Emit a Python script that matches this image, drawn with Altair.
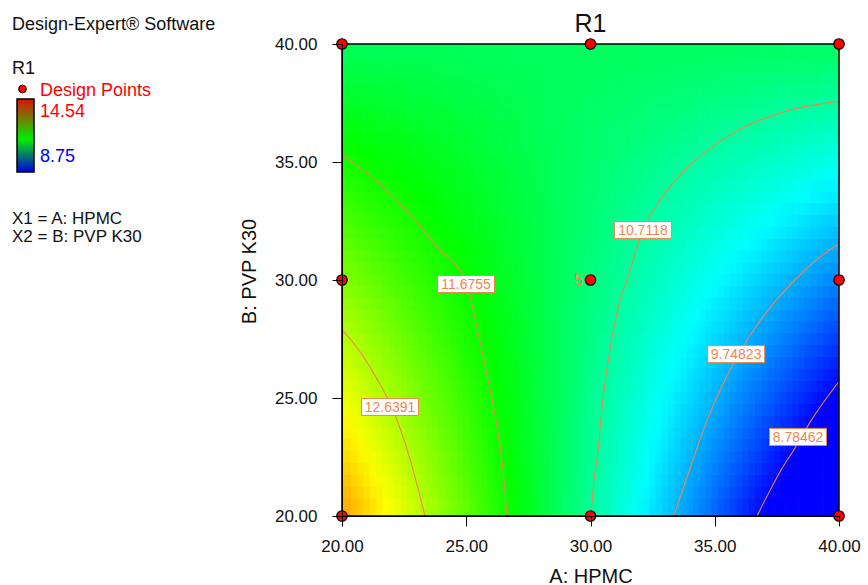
import altair as alt
import pandas as pd

FONT = "Liberation Sans"
ORANGE = "#F0864E"

# ---------------- data ----------------
# cell lower edges: HPMC every 0.5, PVP K30 every 1
hpmc_cell_lo = [20.0, 20.5, 21.0, 21.5, 22.0, 22.5, 23.0, 23.5, 24.0, 24.5,
                25.0, 25.5, 26.0, 26.5, 27.0, 27.5, 28.0, 28.5, 29.0, 29.5,
                30.0, 30.5, 31.0, 31.5, 32.0, 32.5, 33.0, 33.5, 34.0, 34.5,
                35.0, 35.5, 36.0, 36.5, 37.0, 37.5, 38.0, 38.5, 39.0, 39.5]
pvp_cell_lo = [20, 21, 22, 23, 24, 25, 26, 27, 28, 29, 30, 31, 32, 33, 34, 35, 36, 37, 38, 39]

# R1 surface, rows from PVP K30 = 20 (bottom) to 40 (top), columns HPMC 20 -> 40
r1_rows = [
    [13.53, 13.39, 13.24, 13.10, 12.96, 12.82, 12.68, 12.54, 12.39, 12.25, 12.11, 11.97, 11.83, 11.69, 11.55, 11.41, 11.26, 11.12, 10.98, 10.84,
     10.70, 10.56, 10.42, 10.28, 10.13, 9.99, 9.85, 9.71, 9.57, 9.43, 9.28, 9.14, 9.00, 8.86, 8.72, 8.58, 8.44, 8.30, 8.15, 8.01],
    [13.41, 13.27, 13.14, 13.00, 12.87, 12.73, 12.60, 12.46, 12.33, 12.19, 12.06, 11.92, 11.80, 11.66, 11.53, 11.39, 11.26, 11.12, 10.99, 10.85,
     10.72, 10.58, 10.45, 10.31, 10.19, 10.05, 9.92, 9.78, 9.65, 9.51, 9.38, 9.24, 9.11, 8.97, 8.85, 8.71, 8.58, 8.44, 8.31, 8.17],
    [13.28, 13.16, 13.02, 12.90, 12.77, 12.65, 12.52, 12.40, 12.26, 12.14, 12.01, 11.89, 11.75, 11.63, 11.50, 11.38, 11.25, 11.13, 10.99, 10.87,
     10.74, 10.62, 10.49, 10.37, 10.23, 10.11, 9.98, 9.86, 9.72, 9.60, 9.47, 9.35, 9.22, 9.10, 8.96, 8.84, 8.71, 8.59, 8.46, 8.34],
    [13.16, 13.04, 12.92, 12.80, 12.68, 12.56, 12.44, 12.32, 12.20, 12.08, 11.96, 11.84, 11.72, 11.60, 11.48, 11.36, 11.24, 11.12, 11.00, 10.88,
     10.76, 10.64, 10.52, 10.40, 10.29, 10.17, 10.05, 9.93, 9.81, 9.69, 9.57, 9.45, 9.33, 9.21, 9.09, 8.97, 8.85, 8.73, 8.61, 8.49],
    [13.04, 12.92, 12.81, 12.69, 12.59, 12.47, 12.36, 12.24, 12.14, 12.02, 11.91, 11.79, 11.69, 11.57, 11.46, 11.34, 11.24, 11.12, 11.01, 10.89,
     10.79, 10.67, 10.56, 10.44, 10.34, 10.22, 10.11, 9.99, 9.89, 9.77, 9.67, 9.55, 9.44, 9.32, 9.22, 9.10, 8.99, 8.87, 8.77, 8.65],
    [12.91, 12.81, 12.70, 12.60, 12.49, 12.39, 12.28, 12.18, 12.07, 11.97, 11.86, 11.76, 11.65, 11.55, 11.43, 11.33, 11.22, 11.12, 11.01, 10.91,
     10.80, 10.70, 10.59, 10.49, 10.38, 10.28, 10.17, 10.07, 9.96, 9.86, 9.75, 9.65, 9.54, 9.44, 9.33, 9.23, 9.12, 9.02, 8.91, 8.81],
    [12.79, 12.69, 12.59, 12.49, 12.40, 12.30, 12.20, 12.10, 12.00, 11.90, 11.81, 11.71, 11.61, 11.51, 11.42, 11.32, 11.22, 11.12, 11.03, 10.93,
     10.83, 10.73, 10.63, 10.53, 10.44, 10.34, 10.24, 10.14, 10.05, 9.95, 9.85, 9.75, 9.66, 9.56, 9.46, 9.36, 9.26, 9.16, 9.07, 8.97],
    [12.66, 12.58, 12.48, 12.40, 12.30, 12.20, 12.12, 12.02, 11.94, 11.84, 11.76, 11.66, 11.58, 11.48, 11.40, 11.30, 11.22, 11.12, 11.04, 10.94,
     10.85, 10.75, 10.67, 10.57, 10.49, 10.39, 10.31, 10.21, 10.13, 10.03, 9.95, 9.85, 9.77, 9.67, 9.59, 9.49, 9.40, 9.30, 9.22, 9.12],
    [12.54, 12.46, 12.37, 12.29, 12.20, 12.12, 12.04, 11.96, 11.87, 11.79, 11.70, 11.62, 11.54, 11.46, 11.37, 11.29, 11.20, 11.12, 11.04, 10.96,
     10.87, 10.79, 10.70, 10.62, 10.54, 10.46, 10.37, 10.29, 10.20, 10.12, 10.04, 9.96, 9.87, 9.79, 9.70, 9.62, 9.54, 9.46, 9.37, 9.29],
    [12.42, 12.34, 12.27, 12.19, 12.11, 12.03, 11.96, 11.88, 11.81, 11.73, 11.66, 11.58, 11.50, 11.42, 11.35, 11.27, 11.20, 11.12, 11.05, 10.97,
     10.90, 10.82, 10.74, 10.66, 10.59, 10.51, 10.44, 10.36, 10.29, 10.21, 10.13, 10.05, 9.98, 9.90, 9.83, 9.75, 9.68, 9.60, 9.52, 9.44],
    [12.29, 12.23, 12.15, 12.09, 12.01, 11.95, 11.88, 11.82, 11.74, 11.68, 11.60, 11.54, 11.46, 11.40, 11.32, 11.26, 11.19, 11.13, 11.05, 10.99,
     10.91, 10.85, 10.77, 10.71, 10.64, 10.58, 10.50, 10.44, 10.36, 10.30, 10.22, 10.16, 10.08, 10.02, 9.95, 9.89, 9.81, 9.75, 9.67, 9.61],
    [12.17, 12.11, 12.05, 11.99, 11.92, 11.86, 11.80, 11.74, 11.68, 11.62, 11.55, 11.49, 11.43, 11.37, 11.31, 11.25, 11.18, 11.12, 11.06, 11.00,
     10.94, 10.88, 10.81, 10.75, 10.69, 10.63, 10.57, 10.51, 10.44, 10.38, 10.32, 10.26, 10.20, 10.14, 10.07, 10.01, 9.95, 9.89, 9.83, 9.77],
    [12.05, 11.99, 11.94, 11.88, 11.83, 11.77, 11.72, 11.66, 11.61, 11.55, 11.50, 11.44, 11.40, 11.34, 11.29, 11.23, 11.18, 11.12, 11.07, 11.01,
     10.96, 10.90, 10.85, 10.79, 10.74, 10.68, 10.63, 10.57, 10.53, 10.47, 10.42, 10.36, 10.31, 10.25, 10.20, 10.14, 10.09, 10.03, 9.98, 9.92],
    [11.92, 11.88, 11.82, 11.78, 11.73, 11.69, 11.64, 11.60, 11.54, 11.50, 11.45, 11.41, 11.35, 11.31, 11.26, 11.22, 11.16, 11.12, 11.07, 11.03,
     10.98, 10.94, 10.88, 10.84, 10.79, 10.75, 10.69, 10.65, 10.60, 10.56, 10.50, 10.46, 10.41, 10.37, 10.32, 10.28, 10.22, 10.18, 10.13, 10.09],
    [11.80, 11.76, 11.72, 11.68, 11.64, 11.60, 11.56, 11.52, 11.48, 11.44, 11.40, 11.36, 11.32, 11.28, 11.24, 11.20, 11.16, 11.12, 11.08, 11.04,
     11.00, 10.96, 10.92, 10.88, 10.84, 10.80, 10.76, 10.72, 10.68, 10.64, 10.60, 10.56, 10.52, 10.48, 10.44, 10.40, 10.36, 10.32, 10.28, 10.24],
    [11.68, 11.64, 11.61, 11.57, 11.55, 11.51, 11.48, 11.44, 11.42, 11.38, 11.35, 11.31, 11.29, 11.25, 11.22, 11.18, 11.16, 11.12, 11.09, 11.05,
     11.03, 10.99, 10.96, 10.92, 10.90, 10.86, 10.83, 10.79, 10.77, 10.73, 10.70, 10.66, 10.64, 10.60, 10.57, 10.53, 10.50, 10.46, 10.44, 10.40],
    [11.55, 11.53, 11.50, 11.48, 11.45, 11.43, 11.40, 11.38, 11.35, 11.33, 11.30, 11.28, 11.25, 11.23, 11.19, 11.17, 11.14, 11.12, 11.09, 11.07,
     11.04, 11.02, 10.99, 10.97, 10.94, 10.92, 10.89, 10.87, 10.84, 10.82, 10.79, 10.77, 10.74, 10.72, 10.69, 10.67, 10.64, 10.62, 10.59, 10.57],
    [11.43, 11.41, 11.39, 11.37, 11.36, 11.34, 11.32, 11.30, 11.28, 11.26, 11.25, 11.23, 11.21, 11.19, 11.18, 11.16, 11.14, 11.12, 11.10, 11.08,
     11.07, 11.05, 11.03, 11.01, 10.99, 10.97, 10.96, 10.94, 10.92, 10.90, 10.89, 10.87, 10.85, 10.83, 10.81, 10.79, 10.78, 10.76, 10.74, 10.72],
    [11.31, 11.30, 11.29, 11.28, 11.27, 11.26, 11.25, 11.24, 11.22, 11.21, 11.20, 11.19, 11.18, 11.17, 11.16, 11.15, 11.14, 11.13, 11.11, 11.10,
     11.09, 11.08, 11.07, 11.06, 11.05, 11.04, 11.03, 11.02, 11.01, 11.00, 10.98, 10.97, 10.96, 10.95, 10.94, 10.93, 10.92, 10.91, 10.90, 10.89],
    [11.18, 11.18, 11.17, 11.17, 11.17, 11.17, 11.16, 11.16, 11.15, 11.15, 11.14, 11.14, 11.14, 11.14, 11.13, 11.13, 11.12, 11.12, 11.12, 11.12,
     11.11, 11.11, 11.10, 11.10, 11.09, 11.09, 11.09, 11.09, 11.08, 11.08, 11.07, 11.07, 11.06, 11.06, 11.06, 11.06, 11.05, 11.05, 11.04, 11.04],
]

# contour lines (HPMC, PVP K30)
c8_78462_hpmc = [36.7, 37.7, 38.3, 38.85, 39.5, 40.0]
c8_78462_pvp = [20.0, 22.0, 23.0, 24.0, 25.0, 25.7]
c9_74823_hpmc = [33.35, 34.0, 34.67, 35.52, 36.04, 36.64, 37.36, 38.22, 39.27, 40.0]
c9_74823_pvp = [20.0, 22.0, 24.0, 26.0, 27.0, 28.0, 29.0, 30.0, 31.0, 31.55]
c10_7118_hpmc = [30.02, 30.14, 30.26, 30.5, 30.78, 31.19, 31.47, 32.11, 32.8, 34.0, 35.61, 37.63, 40.0]
c10_7118_pvp = [20.0, 21.53, 22.37, 24.92, 27.03, 29.15, 30.0, 32.12, 33.39, 34.87, 36.14, 37.08, 37.58]
c11_6755_hpmc = [20.0, 21.53, 22.94, 23.94, 24.47, 25.03, 25.43, 25.84, 26.24, 26.48, 26.64]
c11_6755_pvp = [35.3, 34.07, 32.54, 31.27, 30.76, 29.83, 28.0, 25.97, 23.77, 21.95, 20.0]
c12_6391_hpmc = [20.0, 20.7, 21.3, 22.05, 22.74, 23.05, 23.34]
c12_6391_pvp = [27.9, 27.0, 26.0, 24.5, 22.4, 21.2, 20.0]

contour_levels = ["8.78462", "9.74823", "10.7118", "11.6755", "12.6391"]
contour_label_hpmc = [38.35, 35.86, 32.11, 24.99, 21.93]
contour_label_pvp = [23.35, 26.86, 32.12, 29.83, 24.62]

design_hpmc = [20, 30, 40, 20, 30, 40, 20, 30, 40]
design_pvp = [20, 20, 20, 30, 30, 30, 40, 40, 40]
center_replicates = ["5"]

# ---------------- tables ----------------
last_i = len(hpmc_cell_lo) - 1
last_j = len(pvp_cell_lo) - 1
heat_rows = []
for j, pv in enumerate(pvp_cell_lo):
    for i, hp in enumerate(hpmc_cell_lo):
        heat_rows.append({
            "hb0": hp - 0.125, "hb1": 40 if i == last_i else hp + 0.375,
            "hs0": hp + 0.125, "hs1": hp + 0.625,
            "vb0": pv - 0.25, "vb1": 40 if j == last_j else pv + 0.75,
            "vs0": pv + 0.25, "vs1": pv + 1.25,
            "r1": r1_rows[j][i],
        })
df_heat = pd.DataFrame(heat_rows)

contour_sets = [
    (c8_78462_hpmc, c8_78462_pvp),
    (c9_74823_hpmc, c9_74823_pvp),
    (c10_7118_hpmc, c10_7118_pvp),
    (c11_6755_hpmc, c11_6755_pvp),
    (c12_6391_hpmc, c12_6391_pvp),
]
line_rows = []
for lvl, (xs_, ys_) in zip(contour_levels, contour_sets):
    for k, (xv, yv) in enumerate(zip(xs_, ys_)):
        line_rows.append({"level": lvl, "k": k, "hpmc": xv, "pvp": yv})
df_lines = pd.DataFrame(line_rows)

df_labels = pd.DataFrame({"level": contour_levels, "hpmc": contour_label_hpmc, "pvp": contour_label_pvp})
df_points = pd.DataFrame({"hpmc": design_hpmc, "pvp": design_pvp})
df_center = pd.DataFrame({"hpmc": [30], "pvp": [30], "n": center_replicates})
df_frame = pd.DataFrame({"hpmc": [20], "hpmc2": [40], "pvp": [20], "pvp2": [40]})
one = pd.DataFrame({"k": [0]})

# ---------------- scales / axes ----------------
xs = alt.Scale(domain=[20, 40], nice=False, zero=False)
ys = alt.Scale(domain=[20, 40], nice=False, zero=False)
common_axis = dict(
    values=[20, 25, 30, 35, 40], format=".2f", grid=False, tickSize=10,
    labelFont=FONT, labelFontSize=17, labelColor="#111", labelFlush=False,
    titleFont=FONT, titleFontSize=20, titleFontWeight="normal", titleColor="#111",
    domainColor="black", tickColor="black", domainWidth=1, tickWidth=1, zindex=1,
    titleBaseline="alphabetic",
)
xaxis = alt.Axis(title="A: HPMC", labelPadding=12, titleY=66, **common_axis)
yaxis = alt.Axis(title="B: PVP K30", labelPadding=15, titleX=-87, titleY=227, titleAngle=270, **common_axis)

X = alt.X("hpmc:Q", scale=xs, axis=xaxis)
Y = alt.Y("pvp:Q", scale=ys, axis=yaxis)

cscale = alt.Scale(
    domain=[8.75, 10.1975, 11.645, 13.0925, 14.54],
    range=["#0000ff", "#00ffff", "#00ff00", "#ffff00", "#ff0000"],
    clamp=True, interpolate="rgb",
)


def heat_layer(xa, xb, ya, yb, opacity, stroke):
    mark = alt.MarkDef(type="rect", clip=True, opacity=opacity, strokeWidth=0.5 if stroke else 0)
    enc = dict(
        x=X, x2="hpmc2:Q", y=Y, y2="pvp2:Q",
        color=alt.Color("r1:Q", scale=cscale, legend=None),
    )
    if stroke:
        enc["stroke"] = alt.Stroke("r1:Q", scale=cscale, legend=None)
    return alt.Chart(df_heat, mark=mark).transform_calculate(
        hpmc=f"datum.{xa}", hpmc2=f"datum.{xb}", pvp=f"datum.{ya}", pvp2=f"datum.{yb}"
    ).encode(**enc)


heat0 = heat_layer("hb0", "hb1", "vb0", "vb1", 1.0, True)
heat1 = heat_layer("hb0", "hb1", "vs0", "vs1", 1 / 2, False)
heat2 = heat_layer("hs0", "hs1", "vb0", "vb1", 1 / 3, False)
heat3 = heat_layer("hs0", "hs1", "vs0", "vs1", 1 / 4, False)

lines = alt.Chart(df_lines).mark_line(interpolate="monotone", color=ORANGE, strokeWidth=1.1).encode(
    x=X, y=Y, detail="level:N", order="k:Q"
)

boxes = alt.Chart(df_labels).mark_rect(
    fill="white", stroke=ORANGE, strokeWidth=1,
    xOffset=-28.5, x2Offset=28.5, yOffset=-8.5, y2Offset=8.5,
).encode(x=X, x2="hpmc:Q", y=Y, y2="pvp:Q")

box_text = alt.Chart(df_labels).mark_text(
    font=FONT, fontSize=14, color=ORANGE, align="center", baseline="middle", dy=1
).encode(x=X, y=Y, text="level:N")

frame = alt.Chart(df_frame).mark_rect(filled=False, stroke="black", strokeWidth=1.5).encode(
    x=X, x2="hpmc2:Q", y=Y, y2="pvp2:Q"
)

points = alt.Chart(df_points).mark_circle(
    color="#ff0000", stroke="black", strokeWidth=1.2, size=110, opacity=1
).encode(x=X, y=Y)

center_txt = alt.Chart(df_center).mark_text(
    font=FONT, fontSize=17, color=ORANGE, align="right", baseline="middle", dx=-7, dy=0
).encode(x=X, y=Y, text="n:N")


def label(txt, x, y, size=18, color="#111", align="left"):
    return alt.Chart(one).mark_text(
        text=txt, font=FONT, fontSize=size, color=color, align=align, baseline="alphabetic"
    ).encode(x=alt.value(x), y=alt.value(y))


title = label("R1", 248.5, -12, size=25, align="center")

leg_texts = [
    label("Design-Expert® Software", -330, -14),
    label("R1", -330, 30),
    label("Design Points", -302, 52, color="#ff0000"),
    label("14.54", -302, 73, color="#ff0000"),
    label("8.75", -302, 118, color="#0000ff"),
    label("X1 = A: HPMC", -330, 180, size=17),
    label("X2 = B: PVP K30", -330, 198, size=17),
]

leg_dot = alt.Chart(one).mark_circle(
    color="#ff0000", stroke="black", strokeWidth=1, size=60, opacity=1
).encode(x=alt.value(-319.5), y=alt.value(45))

gradient = {
    "gradient": "linear", "x1": 0, "y1": 0, "x2": 0, "y2": 1,
    "stops": [
        {"offset": 0, "color": "#dd1100"},
        {"offset": 0.55, "color": "#00ee00"},
        {"offset": 1, "color": "#0000dd"},
    ],
}
leg_bar = alt.Chart(one).mark_rect(fill=gradient, stroke="black", strokeWidth=1.5).encode(
    x=alt.value(-325), x2=alt.value(-308), y=alt.value(55), y2=alt.value(128)
)

chart = alt.layer(
    heat0, heat1, heat2, heat3, lines, boxes, box_text, frame, points, center_txt,
    title, leg_dot, leg_bar, *leg_texts
).properties(
    width=497, height=472,
    padding={"left": 342, "top": 44, "right": 29, "bottom": 69},
    autosize="none",
).configure_view(stroke=None)

chart.save("out.html", embed_options={"renderer": "svg", "actions": False})
